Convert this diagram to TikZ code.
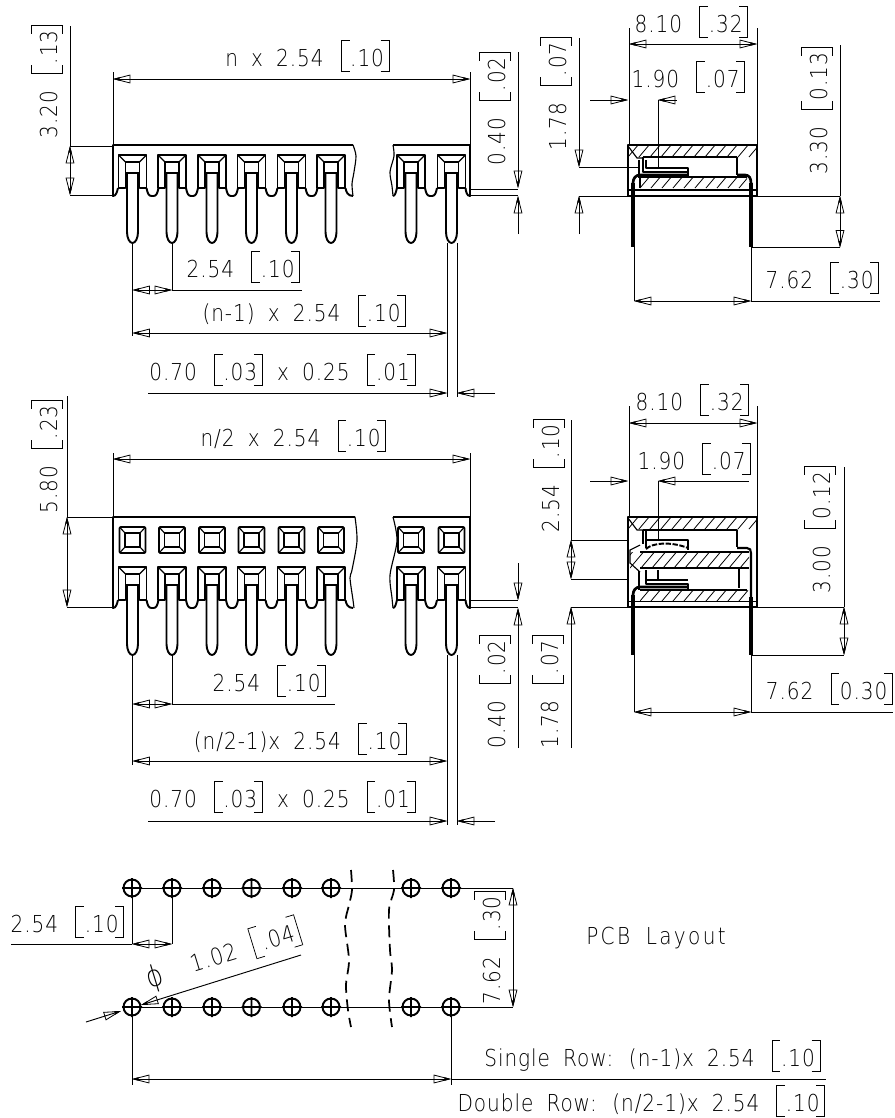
\documentclass[tikz,border=0pt]{standalone}
\usepackage{fontspec}
\usetikzlibrary{arrows.meta}
\newfontfamily\cad[LetterSpace=4,FakeStretch=.86,WordSpace=1.8]{DejaVu Sans ExtraLight}
\newcommand\LB{\kern3pt\vrule height 19.5pt depth 4.5pt width .55pt\rlap{\rule[-4.5pt]{6pt}{.55pt}\hskip-6pt\rule[18.95pt]{6pt}{.55pt}}\kern6.5pt}
\newcommand\RB{\kern3.5pt\llap{\rule[-4.5pt]{6pt}{.55pt}\hskip-6pt\rule[18.95pt]{6pt}{.55pt}}\vrule height 19.5pt depth 4.5pt width .55pt\kern1pt}
\newcommand\hdrpin[2]{\begin{scope}[shift={(#1,#2)}]
 \draw[thk] (-14,188)--(-14,155)--(14,155)--(14,188)--(7,188)--(7,162)--(-7,162)--(-7,188)--cycle;
 \draw[med] (-14,155)--(-7,162) (14,155)--(7,162);
 \draw[thk] (-7,173)--(7,173);
 \draw[thk] (-5.5,173)--(-5.5,232) .. controls (-5.5,238) and (-3,243) .. (0,243) .. controls (3,243) and (5.5,238) .. (5.5,232)--(5.5,173);
\end{scope}}
\newcommand\scal[2]{\begin{scope}[shift={(#1,#2)}]
 \draw[thk] (14,188) .. controls (15,193) and (16,196) .. (19,196) -- (21,196) .. controls (24,196) and (25,193) .. (26,188);
\end{scope}}
\newcommand\winpin[1]{\begin{scope}[shift={(#1,0)}]
 \draw[thk,rounded corners=1pt] (-13,527) rectangle (13,553);
 \draw[thk] (-7.5,533) rectangle (7.5,547);
 \draw[med] (-13,527)--(-7.5,533) (13,527)--(7.5,533) (-13,553)--(-7.5,547) (13,553)--(7.5,547);
\end{scope}}
\newcommand\hatchband[5]{\begin{scope}\clip (#1,#2) rectangle (#3,#4);
 \foreach \k in {-2,...,#5} \draw[thn] ({#1+\k*11},#4) -- ({#1+\k*11+16},{#4-19});
\end{scope}}
\newcommand\hole[2]{\draw[thk] (#1,#2) circle (8.5) (#1-10,#2)--(#1+10,#2) (#1,#2-10)--(#1,#2+10);}
\tikzset{
 thk/.style={line width=1.45pt,line join=round},
 med/.style={line width=.85pt},
 thn/.style={line width=.6pt},
 dm/.style={line width=.7pt},
 pinline/.style={line width=3.4pt},
 brk/.style={line width=1.3pt,dash pattern=on 9pt off 5pt},
 Ar/.tip={Triangle[open,length=13pt,width=6.5pt,line width=.6pt,sep=-5pt] Triangle[length=5pt,width=2.5pt]},
 lbl/.style={inner sep=0pt,font=\cad\fontsize{17.5}{17.5}\selectfont,text=black},
}
\begin{document}
\begin{tikzpicture}[x=.75pt,y=-.75pt]
\useasboundingbox (0,0) rectangle (894,1118);
\fill[white] (0,0) rectangle (894,1118);

%% ---------- top front view
\foreach \c in {132.5,172,212,251.5,291.5,331,411,451.5} {\hdrpin{\c}{0}}
\foreach \c in {132.5,172,212,251.5,291.5,411} {\scal{\c}{0}}
\draw[thk] (353,145)--(113,145)--(113,196) .. controls (116,196) and (117,192) .. (118,188);
\draw[thk] (345.5,188) .. controls (346,192) and (348,196) .. (353,196);
\draw[med] plot[smooth] coordinates {(353,145) (356,156) (354,172) (352,184) (353,196)};
\draw[thk] (393,145)--(470,145)--(470,196) .. controls (467,196) and (466,192) .. (465.5,188);
\draw[thk] (397,188) .. controls (396,192) and (395,196) .. (393,196);
\draw[med] plot[smooth] coordinates {(393,145) (394,156) (390,172) (392,186) (393,196)};

\node[lbl] (t1) at (308,56) {n x 2.54 \LB.10\RB};
\draw[dm,Ar-Ar] (113,79)--(470,79);
\draw[dm] (113,72)--(113,145) (470,72)--(470,189);
\node[lbl,rotate=90] (t2) at (47,81) {3.20 \LB.13\RB};
\draw[dm] (70,26)--(70,146);
\draw[dm,Ar-Ar] (70,146)--(70,195);
\draw[dm] (70,146)--(113,146) (70,195)--(113,195);
\node[lbl,rotate=90] (t3) at (495,108) {0.40 \LB.02\RB};
\draw[dm,-Ar] (518,52)--(518,188);
\draw[dm,-Ar] (518,234)--(518,196);
\draw[dm] (470,189)--(518,189) (470,195)--(518,195);
\node[lbl] (t4) at (244,267) {2.54 \LB.10\RB};
\draw[dm] (132.5,243)--(132.5,336) (172,243)--(172,290) (172,290)--(302,290);
\draw[dm,Ar-Ar] (132.5,290)--(172,290);
\node[lbl] (t5) at (305,311) {(n-1) x 2.54 \LB.10\RB};
\draw[dm,Ar-Ar] (132.5,333)--(447,333);
\draw[dm] (447,243)--(447,397) (457,243)--(457,397);
\node[lbl] (t6) at (283,370) {0.70 \LB.03\RB{} x 0.25 \LB.01\RB};
\draw[dm,-Ar] (148,393)--(447,393);
\draw[dm,-Ar] (495,393)--(457,393);

%% ---------- top side view
\hatchband{628}{145}{757}{157}{12}
\hatchband{640}{177}{747}{188}{10}
\draw[thk] (628,145) rectangle (757,196);
\draw[thk] (628,190)--(757,190);
\draw[med] (628,146)--(637,158)--(643,158);
\draw[thk] (643,157)--(737,157) (737,157)--(737,175);
\draw[thk] (640,177)--(747,177);
\draw[thk] (646,160)--(646,168)--(688,168)--(688,176);
\draw[thk] (643,157)--(643,172)--(688,172);
\draw[thk] (639,160)--(639,178);
\draw[med] (640,177)--(640,188);
\draw[line width=2pt] (688,175)--(640,175) .. controls (636,175) and (633,178) .. (633,183);
\draw[line width=2pt] (737,175)--(745,175) .. controls (749,175) and (751,178) .. (751,183);
\draw[pinline] (633,183)--(633,247) (751,183)--(751,247);

\node[lbl] (t7) at (692,22) {8.10 \LB.32\RB};
\draw[dm,Ar-Ar] (629,44)--(757,44);
\draw[dm] (629,28)--(629,145) (757,28)--(757,145);
\node[lbl] (t8) at (689,77) {1.90 \LB.07\RB};
\draw[dm,-Ar] (590,100)--(628,100);
\draw[dm,Ar-] (658,100)--(677,100);
\draw[dm] (658,100)--(658,168);
\node[lbl,rotate=90] (t9) at (556,93) {1.78 \LB.07\RB};
\draw[dm,-Ar] (579,38)--(579,167);
\draw[dm,-Ar] (579,234)--(579,196);
\draw[dm] (579,167)--(640,167) (579,196)--(628,196);
\node[lbl,rotate=90] (t10) at (817,110) {3.30 \LB0.13\RB};
\draw[dm] (840,45)--(840,196);
\draw[dm,Ar-Ar] (840,196)--(840,247.5);
\draw[dm] (757,196)--(840,196) (752,247.5)--(840,247.5);
\node[lbl] (t11) at (823,278) {7.62 \LB.30\RB};
\draw[dm] (634,247)--(634,301) (751,247)--(751,301) (751,301)--(880,301);
\draw[dm,Ar-Ar] (634,301)--(751,301);

%% ---------- lower front view
\foreach \c in {132.5,172,212,251.5,291.5,331,411,451.5} {\hdrpin{\c}{412}\winpin{\c}}
\foreach \c in {132.5,172,212,251.5,291.5,411} {\scal{\c}{412}}
\draw[thk] (355,517)--(113,517)--(113,608) .. controls (116,608) and (117,604) .. (118,600);
\draw[thk] (345.5,600) .. controls (346,604) and (348,608) .. (353,608);
\draw[med] plot[smooth] coordinates {(355,517) (357,541) (352,570) (350,578) (353,600) (354,608)};
\draw[thk] (393,517)--(470,517)--(470,608) .. controls (467,608) and (466,604) .. (465.5,600);
\draw[thk] (397,600) .. controls (396,604) and (395,608) .. (393,608);
\draw[med] plot[smooth] coordinates {(393,517) (397,541) (390,575) (392,598) (393,608)};

\node[lbl] (t12) at (294,436) {n/2 x 2.54 \LB.10\RB};
\draw[dm,Ar-Ar] (113,459)--(470,459);
\draw[dm] (113,453)--(113,517) (470,453)--(470,601);
\node[lbl,rotate=90] (t13) at (47,456) {5.80 \LB.23\RB};
\draw[dm] (67,396)--(67,517);
\draw[dm,Ar-Ar] (67,517)--(67,607);
\draw[dm] (67,517)--(113,517) (67,607)--(113,607);
\node[lbl,rotate=90] (t14) at (495,691) {0.40 \LB.02\RB};
\draw[dm,-Ar] (518,563)--(518,600);
\draw[dm,-Ar] (518,748)--(518,608);
\draw[dm] (470,600.5)--(518,600.5) (470,607)--(518,607);
\node[lbl] (t15) at (270,681) {2.54 \LB.10\RB};
\draw[dm] (132.5,655)--(132.5,765) (172,655)--(172,704) (172,704)--(335,704);
\draw[dm,Ar-Ar] (132.5,704)--(172,704);
\node[lbl] (t16) at (301,739) {(n/2-1)x 2.54 \LB.10\RB};
\draw[dm,Ar-Ar] (132.5,761)--(447,761);
\draw[dm] (447,655)--(447,825) (457,655)--(457,825);
\node[lbl] (t17) at (283,797) {0.70 \LB.03\RB{} x 0.25 \LB.01\RB};
\draw[dm,-Ar] (148,821)--(447,821);
\draw[dm,-Ar] (495,821)--(457,821);

%% ---------- lower side view
\hatchband{628}{517}{757}{529}{12}
\hatchband{630}{552}{749}{568}{12}
\hatchband{640}{590}{748}{601}{10}
\draw[thk] (628,517) rectangle (757,607);
\draw[thk] (628,601.5)--(757,601.5);
\draw[med] (628,518)--(637,530)--(643,530);
\draw[thk] (643,530)--(737,530)--(737,547);
\draw[thk] (643,530)--(643,544) (646,531)--(646,548);
\draw[thk] (646,540)--(688,540)--(688,550);
\draw[thk,dash pattern=on 4pt off 1.2pt] (646,549) .. controls (652,543) and (670,541) .. (688,548);
\draw[thk] (640,552)--(749,552) (640,568)--(749,568);
\draw[med] (640,545)--(630,550)--(630,563)--(640,572);
\draw[thk] (639,571)--(639,590) (646,570)--(646,584)--(688,584)--(688,589);
\draw[med] (658,570)--(658,580);
\draw[med] (739,569)--(739,588);
\draw[thk] (646,580)--(688,580);
\draw[thk] (640,590)--(747,590);
\draw[line width=2pt] (688,587)--(640,587) .. controls (636,587) and (633,590) .. (633,595);
\draw[line width=1.6pt] (737,548)--(747,548) .. controls (750,548) and (751,550) .. (751,553) -- (751,597);
\draw[pinline] (633,595)--(633,655) (751,597)--(751,655);

\node[lbl] (t18) at (693,400) {8.10 \LB.32\RB};
\draw[dm,Ar-Ar] (629,423)--(757,423);
\draw[dm] (629,406)--(629,517) (757,406)--(757,517);
\node[lbl] (t19) at (695,459) {1.90 \LB.07\RB};
\draw[dm,-Ar] (590,481)--(628,481);
\draw[dm,Ar-] (658,481)--(749,481);
\draw[dm] (658,481)--(658,540);
\node[lbl,rotate=90] (t20) at (549,475) {2.54 \LB.10\RB};
\draw[dm] (571,420)--(571,540);
\draw[dm,Ar-Ar] (571,540)--(571,579);
\draw[dm] (571,540)--(628,540) (571,579)--(628,579);
\node[lbl,rotate=90] (t21) at (548,691) {1.78 \LB.07\RB};
\draw[dm,Ar-] (571,607)--(571,748);
\draw[dm] (571,607)--(628,607);
\node[lbl,rotate=90] (t22) at (820,529) {3.00 \LB0.12\RB};
\draw[dm] (844,467)--(844,607);
\draw[dm,Ar-Ar] (844,607)--(844,655);
\draw[dm] (757,607)--(844,607) (752,655)--(844,655);
\node[lbl] (t23) at (830,689) {7.62 \LB0.30\RB};
\draw[dm] (634,655)--(634,712) (751,655)--(751,712) (751,712)--(893,712);
\draw[dm,Ar-Ar] (634,712)--(751,712);

%% ---------- PCB layout
\draw[dm] (132,888)--(513,888) (132,1007)--(513,1007);
\foreach \c in {132,172,212,251.5,292,331,411,451} {\hole{\c}{888}\hole{\c}{1007}}
\draw[brk] plot[smooth] coordinates {(351,870) (352,890) (349,905) (345,925) (349,960) (346,985) (348,1010) (351,1027)};
\draw[brk] plot[smooth] coordinates {(393,870) (394,890) (389,910) (390,950) (392,970) (389,1000) (392,1027)};
\node[lbl,rotate=90] (t24) at (490,947) {7.62 \LB.30\RB};
\draw[dm,Ar-Ar] (513,888)--(513,1007);
\node[lbl] (t25) at (68,922) {2.54 \LB.10\RB};
\draw[dm] (11,944)--(132,944) (132,888)--(132,944) (172,888)--(172,944);
\draw[dm,Ar-Ar] (132,944)--(172,944);
\node[lbl,rotate=17] (t26) at (245,946) {1.02 \LB.04\RB};
\node[lbl,rotate=17,font=\cad\fontsize{22}{22}\selectfont] (t27) at (155,978) {ϕ};
\draw[dm,-Ar] (301,955)--(141,1005);
\draw[dm,-Ar] (86,1022)--(121,1011);
\draw[dm] (132,1015)--(132,1085) (451,1015)--(451,1085);
\draw[dm,Ar-Ar] (132,1079)--(451,1079);
\draw[dm] (451,1079)--(826,1079);
\node[lbl] (t28) at (653,1056) {Single Row: (n-1)x 2.54 \LB.10\RB};
\node[lbl] (t29) at (642,1101) {Double Row: (n/2-1)x 2.54 \LB.10\RB};
\node[lbl,font=\cad\fontsize{17.5}{17.5}\selectfont\addfontfeature{LetterSpace=10}] (t30) at (656,938) {PCB Layout};
\end{tikzpicture}
\end{document}
